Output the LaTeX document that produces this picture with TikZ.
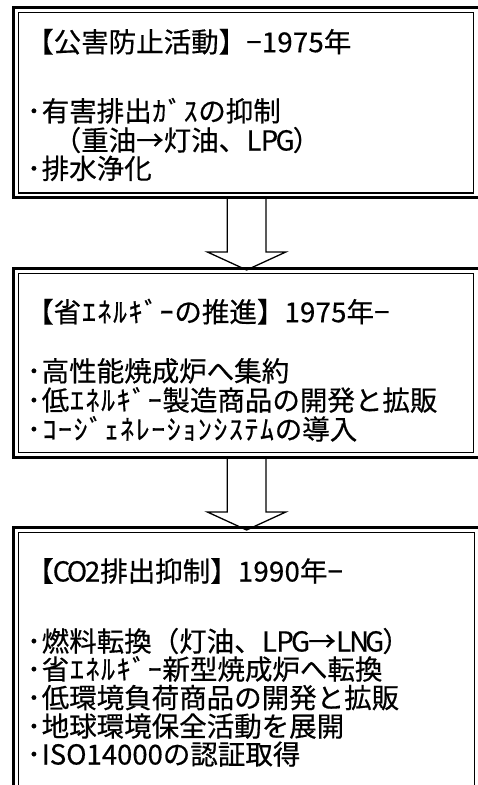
\documentclass[tikz,border=0pt]{standalone}
\usepackage{fontspec}
\setmainfont[FakeBold=0.5]{Noto Sans CJK JP}
\usetikzlibrary{calc}
\pgfdeclarelayer{bg}
\pgfsetlayers{bg,main}
\ExplSyntaxOn
\NewDocumentCommand\hw{m}{\tl_map_inline:nn{#1}{\makebox[0.565em]{##1}}}
\ExplSyntaxOff
\begin{document}
\begin{tikzpicture}[x=1pt,y=-1pt,
  framebox/.style={draw=black, line width=1.3pt},
  outerframe/.style={draw=black, line width=3pt},
  txt/.style={anchor=base west, inner sep=0pt, font=\fontsize{27.5}{30}\selectfont},
  blockarrow/.style={draw=black, fill=white, line width=1.3pt, line join=miter}]
\useasboundingbox (0,0) rectangle (478,785);
% boxes (outer thick frame + inner thin frame)
\coordinate (b1onw) at (13.5,7.9);   \coordinate (b1ose) at (482,197.8);
\coordinate (b2onw) at (13.5,268.5); \coordinate (b2ose) at (482,457.5);
\coordinate (b3onw) at (13.5,527.5); \coordinate (b3ose) at (482,800);
\draw[outerframe] (b1onw) rectangle (b1ose);
\draw[framebox] (18.3,12.7) rectangle (473.8,193);
\draw[outerframe] (b2onw) rectangle (b2ose);
\draw[framebox] (18.3,273.3) rectangle (473.8,452.7);
\draw[outerframe] (b3onw) rectangle (b3ose);
\draw[framebox] (18.3,532.3) rectangle (474.5,795);
\coordinate (b1s) at (246.6,197.8);
\coordinate (b2n) at (246.6,270);
\coordinate (b2s) at (246.6,457.5);
\coordinate (b3n) at (246.6,530);
% block arrows
\begin{pgfonlayer}{bg}
\draw[blockarrow] ($(b1s)+(-19.3,0)$) -- ($(b2n)+(-19.3,-18)$) -- ($(b2n)+(-39.2,-18)$) -- (b2n)
  -- ($(b2n)+(39.2,-18)$) -- ($(b2n)+(19.3,-18)$) -- ($(b1s)+(19.3,0)$) -- cycle;
\draw[blockarrow] ($(b2s)+(-19.3,0)$) -- ($(b3n)+(-19.3,-18)$) -- ($(b3n)+(-39.2,-18)$) -- (b3n)
  -- ($(b3n)+(39.2,-18)$) -- ($(b3n)+(19.3,-18)$) -- ($(b2s)+(19.3,0)$) -- cycle;
\end{pgfonlayer}
% texts box 1
\node[txt] (t1) at (26,52.2) {【公害防止活動】\hw{−1975}年};
\node[txt] (t1a) at (26,121.3) {\hw{･}有害排出\hw{ｶﾞｽ}の抑制};
\node[txt] (t1b) at (26,150.5) {　（重油→灯油、\hw{LPG}）};
\node[txt] (t1c) at (26,178.8) {\hw{･}排水浄化};
% texts box 2
\node[txt] (t2) at (26,322.2) {【省\hw{ｴﾈﾙｷﾞｰ}の推進】\hw{1975}年\hw{−}};
\node[txt] (t2a) at (26,381.3) {\hw{･}高性能焼成炉へ集約};
\node[txt] (t2b) at (26,410.5) {\hw{･}低\hw{ｴﾈﾙｷﾞｰ}製造商品の開発と拡販};
\node[txt] (t2c) at (26,439.5) {\hw{･ｺｰｼﾞｪﾈﾚｰｼｮﾝｼｽﾃﾑ}の導入};
% texts box 3
\node[txt] (t3) at (26,581.5) {【\hw{CO2}排出抑制】\hw{1990}年\hw{−}};
\node[txt] (t3a) at (26,651.5) {\hw{･}燃料転換（灯油、\hw{LPG}→\hw{LNG}）};
\node[txt] (t3b) at (26,679.5) {\hw{･}省\hw{ｴﾈﾙｷﾞｰ}新型焼成炉へ転換};
\node[txt] (t3c) at (26,708) {\hw{･}低環境負荷商品の開発と拡販};
\node[txt] (t3d) at (26,736.5) {\hw{･}地球環境保全活動を展開};
\node[txt] (t3e) at (26,764.5) {\hw{･}ISO14000の認証取得};
\end{tikzpicture}
\end{document}
